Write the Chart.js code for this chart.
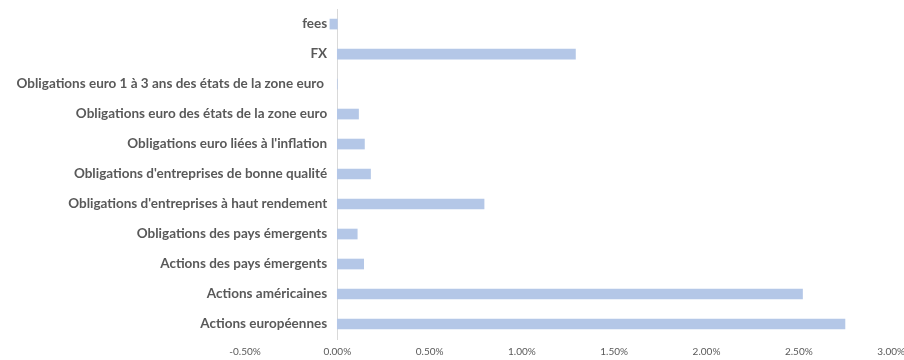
<!DOCTYPE html>
<html>
<head>
<meta charset="utf-8">
<script src="https://cdn.jsdelivr.net/npm/chart.js@4/dist/chart.umd.min.js"></script>
<style>
  html, body { margin: 0; padding: 0; background: #fff; }
  #wrap { width: 904px; height: 360px; }
</style>
</head>
<body>
<div id="wrap"><canvas id="barChart" width="904" height="360"></canvas></div>
<script>
'use strict'

// categories, top to bottom
var categories = [
  'fees',
  'FX',
  'Obligations euro 1 à 3 ans des états de la zone euro ',
  'Obligations euro des états de la zone euro',
  'Obligations euro liées à l\'inflation',
  'Obligations d\'entreprises de bonne qualité',
  'Obligations d\'entreprises à haut rendement',
  'Obligations des pays émergents',
  'Actions des pays émergents',
  'Actions américaines',
  'Actions européennes'
];

// contribution in %
var contributions = [-0.04, 1.29, 0, 0.115, 0.147, 0.18, 0.795, 0.108, 0.143, 2.52, 2.75];

var xMin = -0.5;
var xMax = 3.0;
var xStep = 0.5;

const ctx = document.getElementById('barChart').getContext('2d');
const barChart = new Chart(ctx, {
  type: 'bar',
  data: {
    labels: categories,
    datasets: [{
      data: contributions,
      backgroundColor: '#B4C7E7',
      borderWidth: 0,
      barThickness: 10
    }]
  },
  options: {
    indexAxis: 'y',
    responsive: false,
    animation: false,
    layout: {
      padding: { left: 245, right: 2, top: 3, bottom: 3 }
    },
    plugins: {
      legend: { display: false },
      tooltip: { enabled: false }
    },
    scales: {
      x: {
        min: xMin,
        max: xMax,
        grid: { display: false },
        border: { display: false },
        ticks: {
          stepSize: xStep,
          padding: -1,
          color: '#595959',
          font: { family: 'Lato', size: 10 },
          maxRotation: 0,
          callback: function (value) {
            return value.toFixed(2) + '%';
          }
        }
      },
      y: {
        position: { x: 0 },
        grid: { display: false },
        border: { display: true, color: '#D9D9D9', width: 1 },
        ticks: {
          color: '#595959',
          font: { family: 'Lato', size: 13.5, weight: 'bold', lineHeight: 0.9 },
          // padding is ignored when the axis sits at x = 0, so add an em space
          callback: function (value, index) {
            return categories[index] + '\u2003';
          }
        }
      }
    }
  }
});
</script>
</body>
</html>
